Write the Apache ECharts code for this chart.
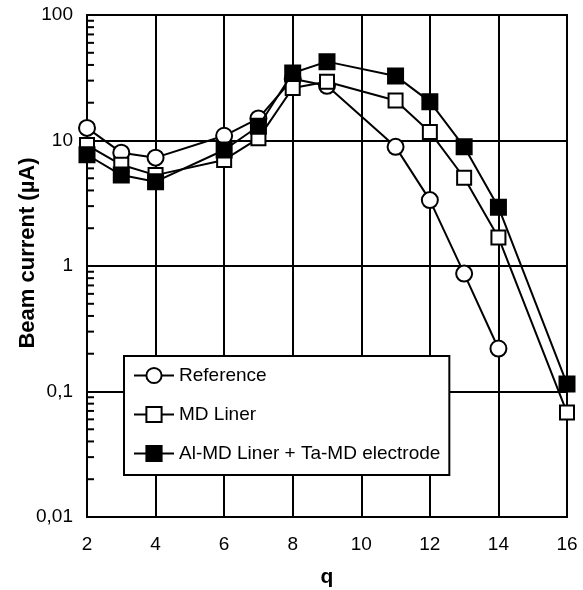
<!DOCTYPE html>
<html>
<head>
<meta charset="utf-8">
<script src="https://cdn.jsdelivr.net/npm/echarts@6/dist/echarts.min.js"></script>
<style>
  html, body { margin: 0; padding: 0; background: #fff; }
  #chart { width: 583px; height: 590px; }
</style>
</head>
<body>
<div id="chart"></div>
<script>
// charge states and beam currents (µA)
var qReference = [2, 3, 4, 6, 7, 8, 9, 11, 12, 13, 14]
var reference = [12.6, 8.0, 7.3, 10.9, 15.0, 31, 27.3, 8.9, 3.35, 0.87, 0.22]

var qMdLiner = [2, 3, 4, 6, 7, 8, 9, 11, 12, 13, 14, 16]
var mdLiner = [9.2, 6.4, 5.3, 7.0, 10.4, 26.2, 29.4, 20.8, 11.7, 5.05, 1.69, 0.068]

var qAlTa = [2, 3, 4, 6, 7, 8, 9, 11, 12, 13, 14, 16]
var alTa = [7.7, 5.3, 4.7, 8.4, 13.0, 34.5, 42.5, 32.7, 20.4, 8.9, 2.94, 0.115]

var seriesNames = ['Reference', 'MD Liner', 'Al-MD Liner + Ta-MD electrode']

// minor ticks on the log axis (2..9 in every decade)
var decades = [0.01, 0.1, 1, 10]
var minorTicks = []
decades.forEach(function (d) {
  for (var k = 2; k <= 9; k++) minorTicks.push(+(d * k).toPrecision(3))
})

function pairs(xs, ys) {
  return xs.map(function (x, i) { return [x, ys[i]] })
}

var font = 'Liberation Sans, Arial, sans-serif'
var lineStyle = { color: '#000', width: 2 }

var chart = echarts.init(document.getElementById('chart'))
chart.setOption({
  animation: false,
  backgroundColor: '#fff',
  grid: {
    left: 87, right: 16, top: 15, bottom: 73,
    outerBoundsMode: 'none',
    containLabel: false,
    show: true, borderColor: '#000', borderWidth: 2
  },
  xAxis: {
    type: 'value',
    min: 2, max: 16, interval: 2,
    name: 'q',
    nameLocation: 'middle',
    nameGap: 50,
    nameMoveOverlap: false,
    nameTextStyle: { fontFamily: font, fontSize: 21, fontWeight: 'bold', color: '#000' },
    axisLine: { lineStyle: { color: '#000', width: 2 } },
    axisTick: { show: false },
    axisLabel: { fontFamily: font, fontSize: 19, color: '#000', margin: 18 },
    splitLine: { lineStyle: { color: '#000', width: 2 } }
  },
  yAxis: {
    type: 'log',
    logBase: 10,
    min: 0.01, max: 100,
    name: 'Beam current (µA)',
    nameLocation: 'middle',
    nameGap: 48,
    nameMoveOverlap: false,
    nameTextStyle: {
      fontFamily: font, fontSize: 22, fontWeight: 'bold', color: '#000',
      padding: [0, 0, 0, 26]
    },
    axisLine: { lineStyle: { color: '#000', width: 2 } },
    axisTick: { show: false },
    axisLabel: {
      fontFamily: font, fontSize: 19, color: '#000', margin: 14,
      formatter: function (v) { return String(v).replace('.', ',') }
    },
    splitLine: { lineStyle: { color: '#000', width: 2 } }
  },
  legend: {
    data: seriesNames,
    orient: 'vertical',
    left: 124, top: 356,
    padding: [10, 9, 12, 9],
    itemGap: 20,
    itemWidth: 40,
    itemHeight: 19,
    backgroundColor: '#fff',
    borderColor: '#000',
    borderWidth: 2,
    borderRadius: 0,
    textStyle: { fontFamily: font, fontSize: 19, color: '#000' }
  },
  series: [
    {
      type: 'custom',
      silent: true,
      data: minorTicks.map(function (v) { return [2, v] }),
      renderItem: function (params, api) {
        var p = api.coord([api.value(0), api.value(1)])
        return {
          type: 'line',
          shape: { x1: p[0], y1: p[1], x2: p[0] + 7, y2: p[1] },
          style: { stroke: '#000', lineWidth: 2 }
        }
      }
    },
    {
      name: seriesNames[0],
      type: 'line',
      data: pairs(qReference, reference),
      symbol: 'circle',
      symbolSize: 16,
      lineStyle: lineStyle,
      itemStyle: { color: '#fff', borderColor: '#000', borderWidth: 2 },
      z: 3
    },
    {
      name: seriesNames[1],
      type: 'line',
      data: pairs(qMdLiner, mdLiner),
      symbol: 'rect',
      symbolSize: 14,
      lineStyle: lineStyle,
      itemStyle: { color: '#fff', borderColor: '#000', borderWidth: 2 },
      z: 4
    },
    {
      name: seriesNames[2],
      type: 'line',
      data: pairs(qAlTa, alTa),
      symbol: 'rect',
      symbolSize: 15,
      lineStyle: lineStyle,
      itemStyle: { color: '#000', borderColor: '#000', borderWidth: 2 },
      z: 5
    }
  ]
})
</script>
</body>
</html>
